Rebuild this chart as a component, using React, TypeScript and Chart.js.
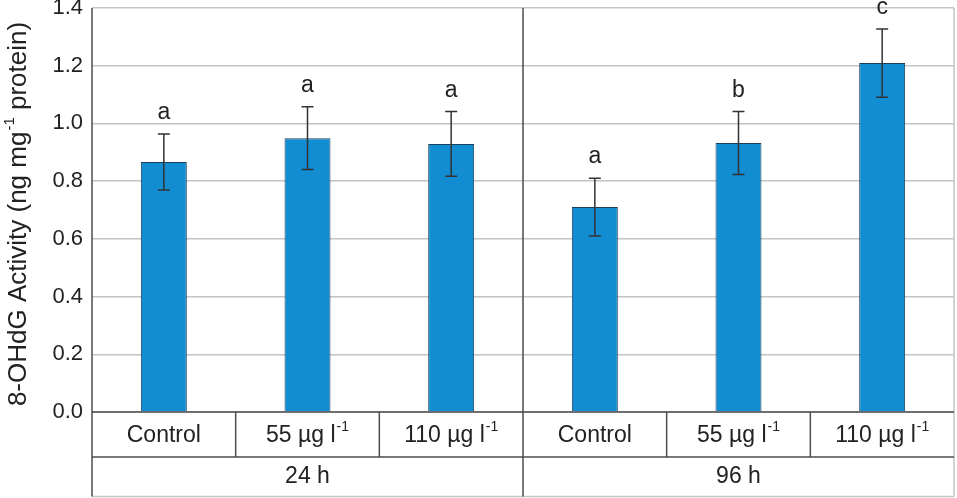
import React, { useEffect, useRef } from "react";
import { Chart, registerables } from "chart.js";

Chart.register(...registerables);

const groups = ["24 h", "96 h"];
const treatments = ["Control", "55 µg l", "110 µg l"];
const treatmentSup = ["", "-1", "-1"];
const values = [0.866, 0.949, 0.929, 0.71, 0.932, 1.209];
const errors = [0.097, 0.109, 0.112, 0.1, 0.109, 0.118];
const letters = ["a", "a", "a", "a", "b", "c"];
const yTitleMain = "8-OHdG Activity (ng mg";
const yTitleSup = "-1";
const yTitleEnd = " protein)";

const FONT = "'Liberation Sans', Arial, sans-serif";
const TEXT = "#222222";
const DARK = "#4d4d4d";
const LIGHT = "#c4c4c4";

const categories: string[] = [];
groups.forEach((g) => treatments.forEach((t) => categories.push(g + " " + t)));

function drawSupText(ctx: CanvasRenderingContext2D, main: string, sup: string, cx: number, cy: number, size: number) {
  const supSize = Math.round(size * 0.6);
  ctx.font = `${size}px ${FONT}`;
  const w1 = ctx.measureText(main).width;
  ctx.font = `${supSize}px ${FONT}`;
  const w2 = sup ? ctx.measureText(sup).width + 1 : 0;
  const start = cx - (w1 + w2) / 2;
  ctx.textAlign = "left";
  ctx.textBaseline = "middle";
  ctx.font = `${size}px ${FONT}`;
  ctx.fillText(main, start, cy);
  if (sup) {
    ctx.font = `${supSize}px ${FONT}`;
    ctx.fillText(sup, start + w1 + 1, cy - size * 0.36);
  }
}

const overlay = {
  id: "overlay",
  afterDatasetsDraw(chart: any) {
    const ctx: CanvasRenderingContext2D = chart.ctx;
    const x = chart.scales.x;
    const y = chart.scales.y;
    const area = chart.chartArea;
    const n = values.length;
    const step = (area.right - area.left) / n;
    const bottom = chart.height - 1.5;
    const row1 = area.bottom + 45;

    ctx.save();
    // error bars
    ctx.strokeStyle = "#333333";
    ctx.lineWidth = 1.5;
    for (let i = 0; i < n; i++) {
      const cx = x.getPixelForValue(i);
      const top = y.getPixelForValue(values[i] + errors[i]);
      const bot = y.getPixelForValue(values[i] - errors[i]);
      ctx.beginPath();
      ctx.moveTo(cx, top);
      ctx.lineTo(cx, bot);
      ctx.moveTo(cx - 6, top);
      ctx.lineTo(cx + 6, top);
      ctx.moveTo(cx - 6, bot);
      ctx.lineTo(cx + 6, bot);
      ctx.stroke();
      ctx.fillStyle = TEXT;
      ctx.font = `23px ${FONT}`;
      ctx.textAlign = "center";
      ctx.textBaseline = "alphabetic";
      ctx.fillText(letters[i], cx, top - 15);
    }

    // right light border of the plot and table
    ctx.strokeStyle = LIGHT;
    ctx.lineWidth = 1.5;
    ctx.beginPath();
    ctx.moveTo(area.right, area.top);
    ctx.lineTo(area.right, bottom);
    ctx.moveTo(area.left, bottom);
    ctx.lineTo(area.right, bottom);
    ctx.stroke();

    // dark lines
    ctx.strokeStyle = DARK;
    ctx.lineWidth = 1.5;
    ctx.beginPath();
    ctx.moveTo(area.left, area.top);
    ctx.lineTo(area.left, bottom);
    const mid = area.left + step * treatments.length;
    ctx.moveTo(mid, area.top);
    ctx.lineTo(mid, bottom);
    ctx.moveTo(area.left, area.bottom);
    ctx.lineTo(area.right, area.bottom);
    ctx.moveTo(area.left, row1);
    ctx.lineTo(area.right, row1);
    for (let i = 1; i < n; i++) {
      const bx = area.left + step * i;
      ctx.moveTo(bx, area.bottom);
      ctx.lineTo(bx, row1);
    }
    ctx.stroke();

    // table text
    ctx.fillStyle = TEXT;
    for (let i = 0; i < n; i++) {
      const cx = x.getPixelForValue(i);
      const t = i % treatments.length;
      drawSupText(ctx, treatments[t], treatmentSup[t], cx, (area.bottom + row1) / 2 + 1, 23);
    }
    groups.forEach((g, gi) => {
      const gx = area.left + step * treatments.length * (gi + 0.5);
      drawSupText(ctx, g, "", gx, (row1 + bottom) / 2, 23);
    });

    // y title
    ctx.save();
    ctx.translate(19, (area.top + area.bottom) / 2 + 4);
    ctx.rotate(-Math.PI / 2);
    const big = 26;
    const small = 15;
    ctx.font = `${big}px ${FONT}`;
    const w1 = ctx.measureText(yTitleMain).width;
    const w3 = ctx.measureText(yTitleEnd).width;
    ctx.font = `${small}px ${FONT}`;
    const w2 = ctx.measureText(yTitleSup).width;
    const total = w1 + w2 + 1 + w3;
    let sx = -total / 2;
    ctx.textAlign = "left";
    ctx.textBaseline = "middle";
    ctx.font = `${big}px ${FONT}`;
    ctx.fillText(yTitleMain, sx, 0);
    sx += w1 + 1;
    ctx.font = `${small}px ${FONT}`;
    ctx.fillText(yTitleSup, sx, -9);
    sx += w2;
    ctx.font = `${big}px ${FONT}`;
    ctx.fillText(yTitleEnd, sx, 0);
    ctx.restore();

    ctx.restore();
  },
};

export default function App() {
  const ref = useRef<HTMLCanvasElement | null>(null);
  useEffect(() => {
    document.body.style.margin = "0";
    if (!ref.current) return;
    const chart = new Chart(ref.current, {
      type: "bar",
      data: {
        labels: categories,
        datasets: [
          {
            data: values,
            backgroundColor: "#128dd2",
            borderColor: "#1d3f5a",
            borderWidth: 1,
            barPercentage: 0.32,
            categoryPercentage: 1,
          },
        ],
      },
      options: {
        animation: false,
        responsive: true,
        maintainAspectRatio: false,
        layout: { padding: { top: 8, right: 3, bottom: 86, left: 0 } },
        plugins: { legend: { display: false }, tooltip: { enabled: false } },
        scales: {
          x: { display: false },
          y: {
            min: 0,
            max: 1.4,
            afterFit: (s: any) => {
              s.width = 92;
              s.paddingTop = 0;
              s.paddingBottom = 0;
            },
            ticks: {
              stepSize: 0.2,
              padding: 9,
              color: TEXT,
              font: { family: FONT, size: 22 },
              callback: (v: any) => Number(v).toFixed(1),
            },
            grid: { color: LIGHT, lineWidth: 1.5, drawTicks: false },
            border: { display: false },
          },
        },
      },
      plugins: [overlay],
    });
    return () => chart.destroy();
  }, []);
  return (
    <div style={{ width: 957, height: 498, position: "relative" }}>
      <canvas ref={ref} />
    </div>
  );
}
